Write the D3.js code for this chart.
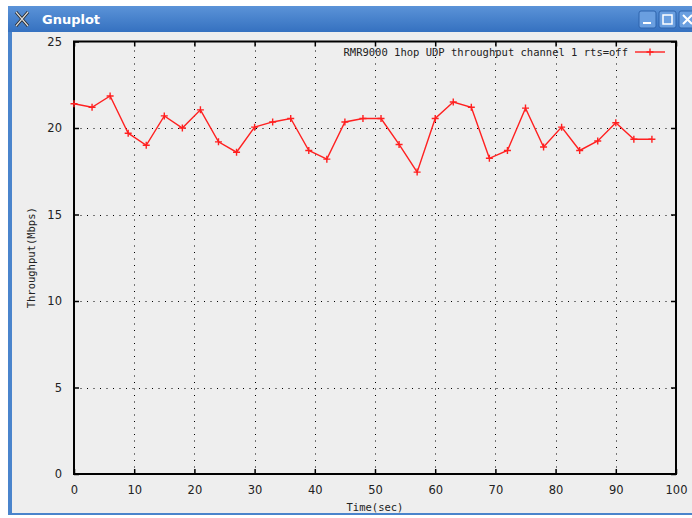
<!DOCTYPE html>
<html>
<head>
<meta charset="utf-8">
<script src="https://cdn.jsdelivr.net/npm/d3@7"></script>
<style>
  html, body { margin: 0; padding: 0; background: #ffffff; }
  svg { display: block; }
</style>
</head>
<body>
<svg id="chart" width="692" height="518"></svg>
<script>
// Throughput samples, one every 3 seconds
const times = [0, 3, 6, 9, 12, 15, 18, 21, 24, 27, 30, 33, 36, 39, 42, 45, 48, 51, 54, 57, 60, 63, 66, 69, 72, 75, 78, 81, 84, 87, 90, 93, 96];
const throughput = [21.4, 21.2, 21.85, 19.7, 19.0, 20.7, 20.0, 21.05, 19.2, 18.6, 20.05, 20.35, 20.55, 18.7, 18.2, 20.35, 20.55, 20.55, 19.05, 17.45, 20.55, 21.5, 21.2, 18.25, 18.7, 21.15, 18.9, 20.05, 18.7, 19.25, 20.3, 19.35, 19.35];
const xTicks = [0, 10, 20, 30, 40, 50, 60, 70, 80, 90, 100];
const yTicks = [0, 5, 10, 15, 20, 25];
const seriesLabel = "RMR9000 1hop UDP throughput channel 1 rts=off";
const xLabel = "Time(sec)";
const yLabel = "Throughput(Mbps)";
const windowTitle = "Gnuplot";

(function () {
const svg = d3.select("#chart");
const W = 692, H = 518;

// --- window frame ---
const defs = svg.append("defs");
const grad = defs.append("linearGradient").attr("id", "titlebar").attr("x1", 0).attr("y1", 0).attr("x2", 0).attr("y2", 1);
grad.append("stop").attr("offset", "0%").attr("stop-color", "#5b93d8");
grad.append("stop").attr("offset", "100%").attr("stop-color", "#3571c0");

svg.append("rect").attr("x", 0).attr("y", 0).attr("width", W).attr("height", H).attr("fill", "#ffffff");
svg.append("rect").attr("x", 8).attr("y", 6).attr("width", W - 8).attr("height", 509).attr("fill", "#4a84cc");
svg.append("rect").attr("x", 8).attr("y", 6).attr("width", W - 8).attr("height", 26).attr("fill", "url(#titlebar)");
svg.append("rect").attr("x", 12).attr("y", 32).attr("width", W - 12).attr("height", 481).attr("fill", "#eeeeee");

// title bar icon and caption
const icon = svg.append("g").attr("transform", "translate(22,19)");
icon.append("path").attr("d", "M-6,-7 L6,7 M6,-7 L-6,7").attr("stroke", "#2a2a2a").attr("stroke-width", 3);
icon.append("path").attr("d", "M-6,-7 L6,7 M6,-7 L-6,7").attr("stroke", "#dddddd").attr("stroke-width", 1.2);
svg.append("text").attr("x", 42).attr("y", 24).text(windowTitle)
  .attr("font-family", "DejaVu Sans").attr("font-weight", "bold").attr("font-size", 13).attr("fill", "#ffffff");

// title bar buttons
const btnX = [639, 659, 679];
btnX.forEach((bx, i) => {
  svg.append("rect").attr("x", bx).attr("y", 11).attr("width", 17).attr("height", 17).attr("rx", 2)
    .attr("fill", "#6a9fe0").attr("stroke", "#2f64ad");
  const g = svg.append("g").attr("stroke", "#ffffff").attr("fill", "none").attr("stroke-width", 2);
  if (i === 0) g.append("line").attr("x1", bx + 4).attr("x2", bx + 12).attr("y1", 23).attr("y2", 23);
  if (i === 1) g.append("rect").attr("x", bx + 4).attr("y", 15).attr("width", 9).attr("height", 9).attr("stroke-width", 1.5);
  if (i === 2) g.append("path").attr("d", `M${bx + 4},15 L${bx + 13},24 M${bx + 13},15 L${bx + 4},24`);
});

// --- plot ---
const pLeft = 74, pRight = 676, pTop = 41.5, pBottom = 474;
const x = d3.scaleLinear().domain([0, 100]).range([pLeft, pRight]);
const y = d3.scaleLinear().domain([0, 25]).range([pBottom, pTop]);

const tickFont = "DejaVu Sans";
const monoFont = "DejaVu Sans Mono";

// dotted grid
const grid = svg.append("g").attr("stroke", "#000000").attr("stroke-width", 1).attr("stroke-dasharray", "1,5.5");
xTicks.filter(t => t > 0 && t < 100).forEach(t => {
  grid.append("line").attr("x1", Math.round(x(t)) + 0.5).attr("x2", Math.round(x(t)) + 0.5)
    .attr("y1", pBottom).attr("y2", pTop);
});
yTicks.filter(t => t > 0 && t < 25).forEach(t => {
  grid.append("line").attr("y1", Math.round(y(t)) + 0.5).attr("y2", Math.round(y(t)) + 0.5)
    .attr("x1", pLeft).attr("x2", pRight);
});

// axes with inward ticks on all four sides
const axisBottom = d3.axisBottom(x).tickValues(xTicks).tickSize(-5).tickPadding(12).tickFormat(d3.format("d"));
const axisTop = d3.axisTop(x).tickValues(xTicks).tickSize(-5).tickFormat("");
const axisLeft = d3.axisLeft(y).tickValues(yTicks).tickSize(-5).tickPadding(12).tickFormat(d3.format("d"));
const axisRight = d3.axisRight(y).tickValues(yTicks).tickSize(-5).tickFormat("");

function styleAxis(g) {
  g.select(".domain").remove();
  g.selectAll(".tick line").attr("stroke", "#000").attr("stroke-width", 1.5);
  g.selectAll("text").attr("font-family", tickFont).attr("font-size", 11.5).attr("fill", "#222");
}
svg.append("g").attr("transform", `translate(0,${pBottom})`).call(axisBottom).call(styleAxis);
svg.append("g").attr("transform", `translate(0,${pTop})`).call(axisTop).call(styleAxis);
svg.append("g").attr("transform", `translate(${pLeft},0)`).call(axisLeft).call(styleAxis);
svg.append("g").attr("transform", `translate(${pRight},0)`).call(axisRight).call(styleAxis);

// border
svg.append("rect").attr("x", pLeft).attr("y", pTop).attr("width", pRight - pLeft).attr("height", pBottom - pTop)
  .attr("fill", "none").attr("stroke", "#000").attr("stroke-width", 2);

// axis titles
svg.append("text").attr("x", (pLeft + pRight) / 2).attr("y", 511).attr("text-anchor", "middle")
  .attr("font-family", monoFont).attr("font-size", 10.5).attr("fill", "#222").text(xLabel);
svg.append("text").attr("transform", `translate(35,${(pTop + pBottom) / 2}) rotate(-90)`).attr("text-anchor", "middle")
  .attr("font-family", monoFont).attr("font-size", 10.5).attr("fill", "#222").text(yLabel);

// series line and point markers
const data = times.map((t, i) => ({ t, v: throughput[i] }));
const red = "#ff2020";
svg.append("path").datum(data)
  .attr("d", d3.line().x(d => x(d.t)).y(d => y(d.v)))
  .attr("fill", "none").attr("stroke", red).attr("stroke-width", 1.4);
const ms = 3.5;
svg.append("g").selectAll("path").data(data).join("path")
  .attr("d", d => `M${x(d.t) - ms},${y(d.v)} H${x(d.t) + ms} M${x(d.t)},${y(d.v) - ms} V${y(d.v) + ms}`)
  .attr("stroke", red).attr("stroke-width", 1.4);

// legend
const legY = 52;
svg.append("text").attr("x", 628).attr("y", legY + 4).attr("text-anchor", "end")
  .attr("font-family", monoFont).attr("font-size", 10.5).attr("fill", "#222").text(seriesLabel);
svg.append("line").attr("x1", 635).attr("x2", 665).attr("y1", legY).attr("y2", legY)
  .attr("stroke", red).attr("stroke-width", 1.4);
svg.append("path").attr("d", `M${650 - ms},${legY} H${650 + ms} M650,${legY - ms} V${legY + ms}`)
  .attr("stroke", red).attr("stroke-width", 1.4);
})();
</script>
</body>
</html>
